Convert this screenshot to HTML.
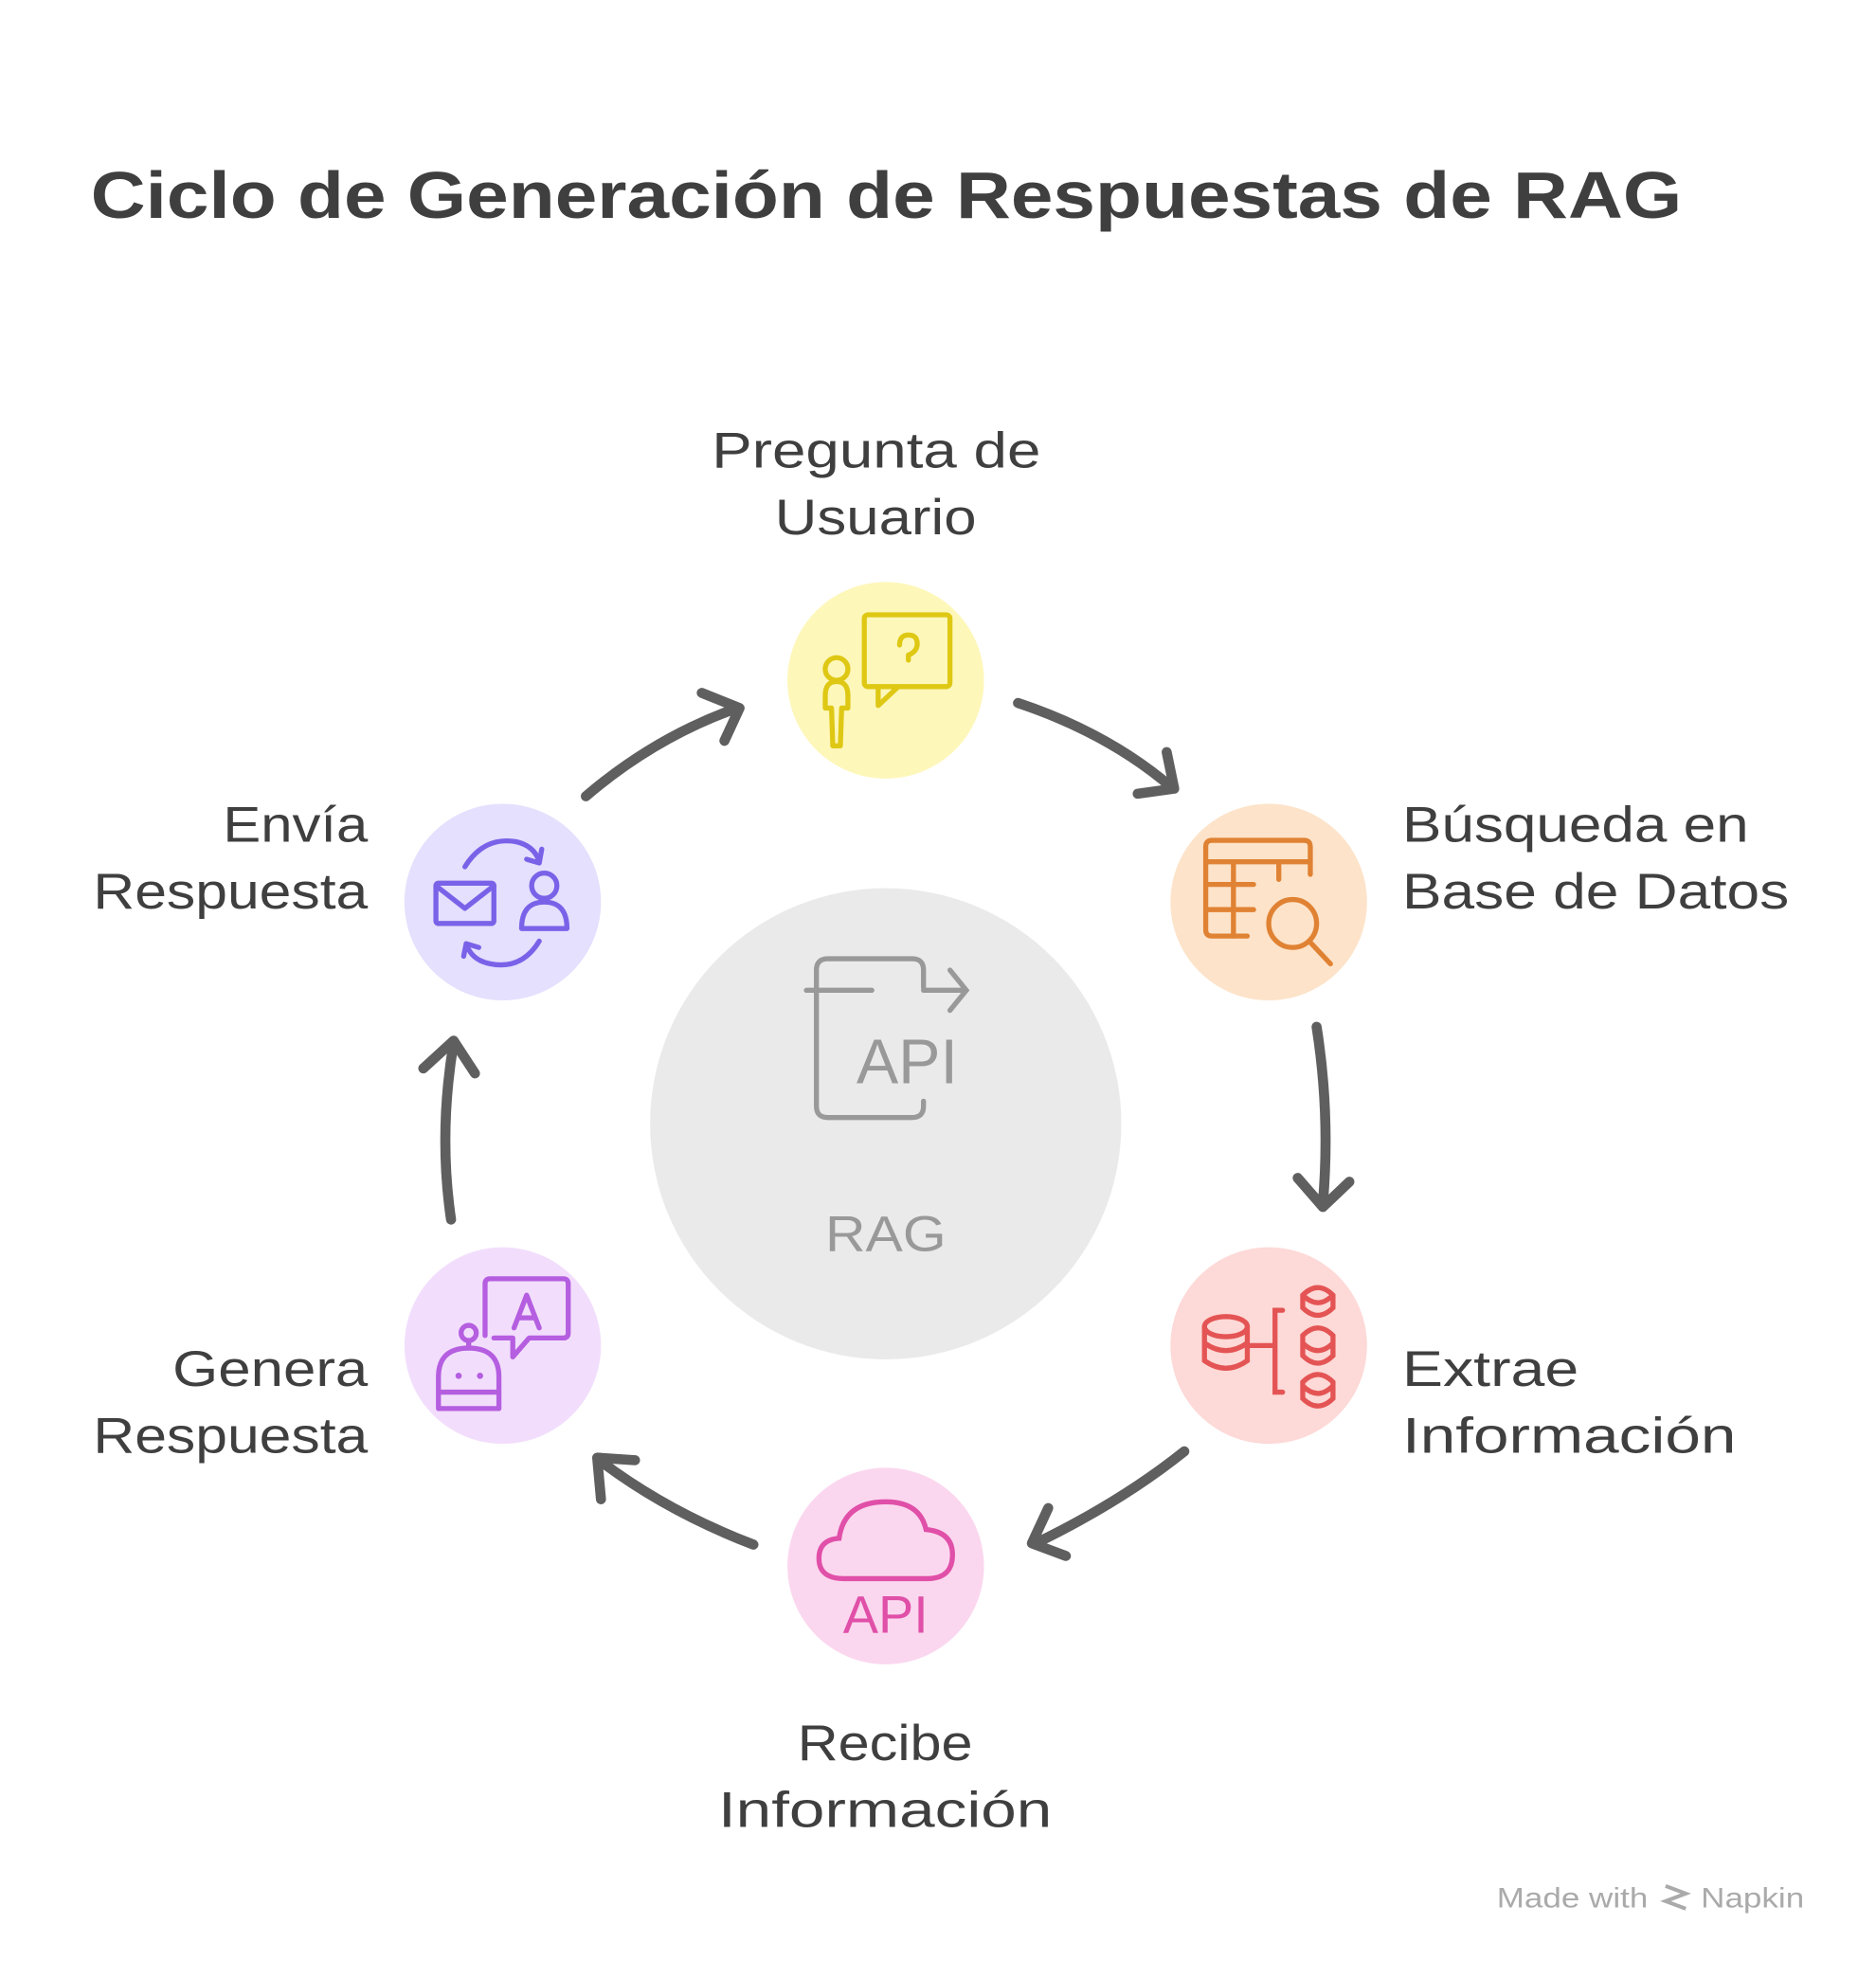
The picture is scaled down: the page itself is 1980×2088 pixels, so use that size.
<!DOCTYPE html>
<html><head><meta charset="utf-8"><style>
html,body{margin:0;padding:0;background:#fff;}
svg{display:block;}
text{font-family:"Liberation Sans",sans-serif;}
</style></head><body>
<svg width="1980" height="2088" viewBox="0 0 1489 1570" preserveAspectRatio="none" xmlns="http://www.w3.org/2000/svg">
<rect width="1489" height="1570" fill="#fff"/>
<text x="72" y="173" font-size="52" font-weight="bold" fill="#3f3f3f" textLength="1263" lengthAdjust="spacingAndGlyphs">Ciclo de Generación de Respuestas de RAG</text>

<circle cx="703" cy="892" r="187" fill="#eaeaea"/>
<g fill="none" stroke="#999" stroke-width="4" stroke-linecap="round">
<path d="M692,786 H640 M733,784 V770 Q733,761 724,761 H657 Q648,761 648,770 V878 Q648,887 657,887 H724 Q733,887 733,878 V874"/>
<path d="M733,786 H767 M754,770 L767,786 L754,802"/>
</g>
<text x="720" y="860" font-size="50" fill="#999" text-anchor="middle" font-family="Liberation Mono">API</text>
<text x="655" y="993" font-size="40" fill="#999" textLength="96" lengthAdjust="spacingAndGlyphs">RAG</text>

<circle cx="703" cy="540" r="78" fill="#fef7ba"/>
<circle cx="1007" cy="716" r="78" fill="#fde3c9"/>
<circle cx="1007" cy="1068" r="78" fill="#fdd9d7"/>
<circle cx="703" cy="1243" r="78" fill="#fbd7ef"/>
<circle cx="399" cy="1068" r="78" fill="#f2defc"/>
<circle cx="399" cy="716" r="78" fill="#e4e0fd"/>

<g fill="none" stroke="#dec814" stroke-width="4" stroke-linejoin="round" stroke-linecap="round">
<rect x="686" y="488" width="68" height="57" rx="3"/>
<path d="M697,545 V560 L713,545"/>
<circle cx="664" cy="531" r="9"/>
<path d="M655,562 V552 Q655,541 664,541 Q673,541 673,552 V562 H668 L667,592 H661 L660,562 Z"/>
<path d="M714,512 Q714,504 721,504 Q728,504 728,511 Q728,517 721,520 V524"/>
</g>
<g fill="none" stroke="#e08233" stroke-width="4" stroke-linecap="round">
<path d="M1040,694 V672 Q1040,667 1035,667 H962 Q957,667 957,672 V738 Q957,743 962,743 H990"/>
<path d="M957,684 H1040 M957,702 H995 M957,722 H995 M979,684 V743 M1015,684 V698"/>
<circle cx="1026" cy="733" r="19"/>
<path d="M1040,748 L1056,765"/>
</g>
<g fill="none" stroke="#e45454" stroke-width="4" stroke-linecap="round">
<ellipse cx="973" cy="1053" rx="17" ry="8"/>
<path d="M956,1053 V1080 Q973,1092 990,1080 V1053 M956,1066 Q973,1078 990,1066"/>
<path d="M992,1068 H1012 M1018,1040 H1012 V1105 H1018"/>
<path d="M1034,1028 Q1046,1016 1058,1028 V1038 Q1046,1050 1034,1038 Z M1034,1028 Q1046,1040 1058,1028"/>
<path d="M1034,1060 Q1046,1048 1058,1060 V1076 Q1046,1088 1034,1076 Z M1034,1066 Q1046,1078 1058,1066"/>
<path d="M1034,1097 Q1046,1085 1058,1097 V1110 Q1046,1122 1034,1110 Z M1034,1100 Q1046,1112 1058,1100"/>
</g>
<g fill="none" stroke="#e04fa8" stroke-width="4" stroke-linecap="round">
<path d="M670,1253 Q650,1253 650,1237 Q650,1222 666,1221 Q670,1192 703,1192 Q730,1192 735,1214 Q756,1216 756,1234 Q756,1253 736,1253 Z"/>
</g>
<text x="703" y="1296" font-size="42" fill="#e04fa8" text-anchor="middle" font-family="Liberation Mono">API</text>
<g fill="none" stroke="#b55ee0" stroke-width="4" stroke-linecap="round" stroke-linejoin="round">
<path d="M385,1060 V1019 Q385,1015 389,1015 H447 Q451,1015 451,1019 V1058 Q451,1062 447,1062 H420 L407,1077 V1062 H392"/>
<path d="M408,1054 L418,1028 L428,1054 M412,1046 H424"/>
<circle cx="372" cy="1058" r="6"/>
<path d="M372,1064 V1070 M348,1118 V1093 Q348,1070 372,1070 Q396,1070 396,1093 V1118 Z M348,1105 H396"/>
</g>
<circle cx="364" cy="1092" r="2.5" fill="#b55ee0"/><circle cx="381" cy="1092" r="2.5" fill="#b55ee0"/>
<g fill="none" stroke="#7a62e8" stroke-width="4" stroke-linecap="round" stroke-linejoin="round">
<rect x="346" y="701" width="46" height="32" rx="2"/>
<path d="M346,703 L369,721 L392,703"/>
<circle cx="432" cy="703" r="10"/>
<path d="M414,737 Q414,716 432,716 Q450,716 450,737 Z"/>
<path d="M369,688 Q384,664 409,668 Q424,671 428,684 M418,682 L428,685 L430,674"/>
<path d="M428,747 Q414,770 389,765 Q374,762 370,749 M380,752 L370,749 L368,759"/>
</g>

<g fill="none" stroke="#5f5f5f" stroke-width="8" stroke-linecap="round" stroke-linejoin="round">
<path d="M465,632 Q520,585 585,562"/><path d="M557,550 L587,562 L575,588"/>
<path d="M808,558 Q880,582 930,625"/><path d="M903,630 L932,626 L926,597"/>
<path d="M1045,815 Q1056,885 1050,955"/><path d="M1030,935 L1050,958 L1071,938"/>
<path d="M940,1152 Q890,1192 822,1225"/><path d="M846,1235 L819,1225 L832,1197"/>
<path d="M598,1226 Q530,1200 477,1160"/><path d="M477,1190 L474,1157 L504,1159"/>
<path d="M358,968 Q348,900 360,828"/><path d="M336,848 L360,826 L377,852"/>
</g>

<g font-size="40" fill="#3f3f3f" lengthAdjust="spacingAndGlyphs">
<text x="565" y="371" textLength="261" lengthAdjust="spacingAndGlyphs">Pregunta de</text>
<text x="615" y="424" textLength="160" lengthAdjust="spacingAndGlyphs">Usuario</text>
<text x="1113" y="668" textLength="275" lengthAdjust="spacingAndGlyphs">Búsqueda en</text>
<text x="1113" y="721" textLength="307" lengthAdjust="spacingAndGlyphs">Base de Datos</text>
<text x="1113" y="1100" textLength="140" lengthAdjust="spacingAndGlyphs">Extrae</text>
<text x="1113" y="1153" textLength="265" lengthAdjust="spacingAndGlyphs">Información</text>
<text x="633" y="1397" textLength="139" lengthAdjust="spacingAndGlyphs">Recibe</text>
<text x="570" y="1450" textLength="265" lengthAdjust="spacingAndGlyphs">Información</text>
<text x="177" y="668" textLength="115" lengthAdjust="spacingAndGlyphs">Envía</text>
<text x="74" y="721" textLength="218" lengthAdjust="spacingAndGlyphs">Respuesta</text>
<text x="137" y="1100" textLength="155" lengthAdjust="spacingAndGlyphs">Genera</text>
<text x="74" y="1153" textLength="218" lengthAdjust="spacingAndGlyphs">Respuesta</text>
</g>
<text x="1188" y="1514" font-size="22" fill="#aaa" textLength="120" lengthAdjust="spacingAndGlyphs">Made with</text>
<path d="M1322,1497 L1338,1503 L1322,1509 L1338,1515" fill="none" stroke="#aaa" stroke-width="3"/>
<text x="1350" y="1514" font-size="22" fill="#aaa" textLength="82" lengthAdjust="spacingAndGlyphs">Napkin</text>
</svg>
</body></html>
